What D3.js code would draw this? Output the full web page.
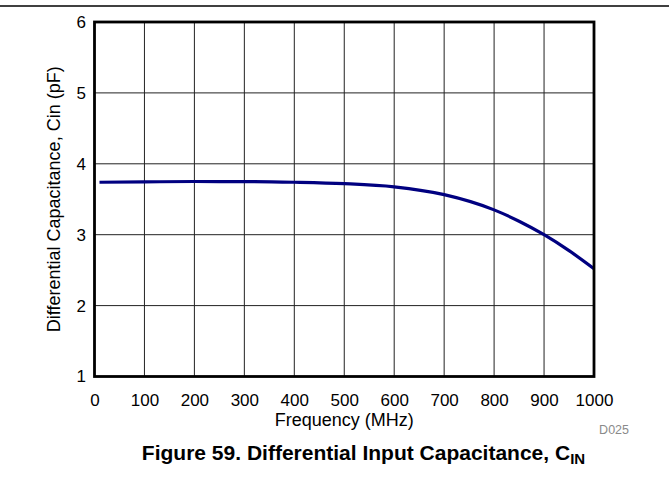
<!DOCTYPE html>
<html><head><meta charset="utf-8">
<script src="https://cdn.jsdelivr.net/npm/d3@7"></script>
<style>
html,body{margin:0;padding:0;background:#fff;}
svg{display:block;font-family:"Liberation Sans",Arial,Helvetica,sans-serif;}
</style></head>
<body>
<svg id="chart" width="669" height="479"></svg>
<script>
const frequency = [10, 100, 200, 300, 400, 500, 600, 700, 800, 850, 900, 950, 1000];
const capacitance = [3.74, 3.745, 3.75, 3.75, 3.74, 3.72, 3.675, 3.565, 3.35, 3.19, 3.0, 2.775, 2.52];
const xTicks = [0, 100, 200, 300, 400, 500, 600, 700, 800, 900, 1000];
const yTicks = [1, 2, 3, 4, 5, 6];
const xLabel = "Frequency (MHz)";
const yLabel = "Differential Capacitance, Cin (pF)";
const figureCaption = "Figure 59. Differential Input Capacitance, C";
const captionSub = "IN";
const docId = "D025";

(function () {
const svg = d3.select("#chart");
const pL = 94.5, pR = 594, pT = 22, pB = 376.5;
const x = d3.scaleLinear().domain([0, 1000]).range([pL, pR]);
const y = d3.scaleLinear().domain([1, 6]).range([pB, pT]);

// top rule
svg.append("line").attr("x1", 0).attr("x2", 669).attr("y1", 6).attr("y2", 6)
  .attr("stroke", "#000").attr("stroke-width", 1.5);

// grid
svg.append("g").selectAll("line").data(xTicks.slice(1, -1)).join("line")
  .attr("x1", d => x(d)).attr("x2", d => x(d)).attr("y1", pT).attr("y2", pB)
  .attr("stroke", "#222").attr("stroke-width", 1);
svg.append("g").selectAll("line").data(yTicks.slice(1, -1)).join("line")
  .attr("x1", pL).attr("x2", pR).attr("y1", d => y(d)).attr("y2", d => y(d))
  .attr("stroke", "#222").attr("stroke-width", 1);

// axes (labels only)
const xAxis = d3.axisBottom(x).tickValues(xTicks).tickSize(0).tickPadding(17.5).tickFormat(d3.format("d"));
const gx = svg.append("g").attr("transform", `translate(0,${pB})`).call(xAxis);
gx.select(".domain").remove();
gx.attr("font-family", null).attr("font-size", null);
gx.selectAll("text").attr("font-size", 17).attr("fill", "#000");

const yAxis = d3.axisLeft(y).tickValues(yTicks).tickSize(0).tickPadding(8.5).tickFormat(d3.format("d"));
const gy = svg.append("g").attr("transform", `translate(${pL},0)`).call(yAxis);
gy.select(".domain").remove();
gy.attr("font-family", null).attr("font-size", null);
gy.selectAll("text").attr("font-size", 17).attr("fill", "#000");

// curve
const line = d3.line().x((d, i) => x(frequency[i])).y(d => y(d)).curve(d3.curveMonotoneX);
svg.append("path").datum(capacitance).attr("d", line)
  .attr("fill", "none").attr("stroke", "#000080").attr("stroke-width", 3.2);

// frame
svg.append("rect").attr("x", pL).attr("y", pT).attr("width", pR - pL).attr("height", pB - pT)
  .attr("fill", "none").attr("stroke", "#000").attr("stroke-width", 2.8);

// axis titles
svg.append("text").attr("x", (pL + pR) / 2).attr("y", 426).attr("text-anchor", "middle")
  .attr("font-size", 18).text(xLabel);
svg.append("text").attr("transform", `translate(60,${(pT + pB) / 2}) rotate(-90)`)
  .attr("text-anchor", "middle").attr("font-size", 18).text(yLabel);

// doc id
svg.append("text").attr("x", 629).attr("y", 434).attr("text-anchor", "end")
  .attr("font-size", 12.5).attr("fill", "#8a8a8a").text(docId);

// caption
const cap = svg.append("text").attr("x", 363.5).attr("y", 460).attr("text-anchor", "middle")
  .attr("font-size", 21).attr("font-weight", "bold");
cap.append("tspan").text(figureCaption);
cap.append("tspan").attr("font-size", 15).attr("dy", 4).text(captionSub);
})();
</script>
</body></html>
